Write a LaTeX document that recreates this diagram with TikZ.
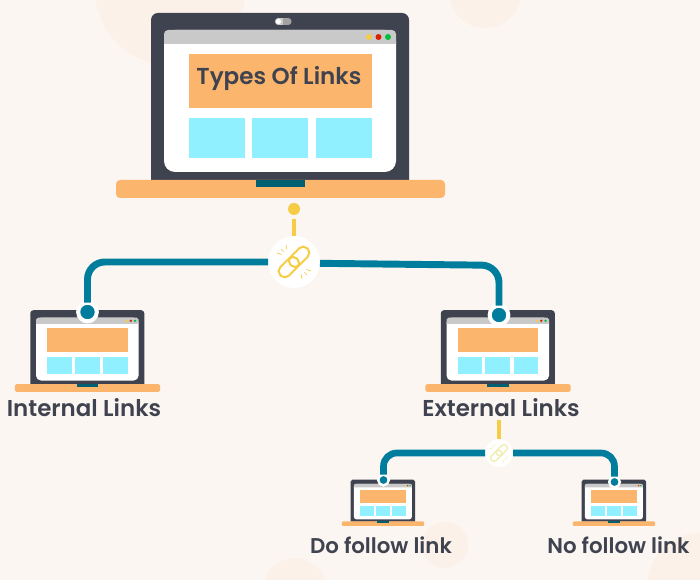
\documentclass[tikz,border=0pt]{standalone}
\usepackage{fontspec}
\newfontfamily\pop{Poppins}[UprightFont=* SemiBold]
\definecolor{bgc}{HTML}{FBF6F1}
\definecolor{blobc}{HTML}{FBF1E9}
\definecolor{bodyc}{HTML}{3F424F}
\definecolor{orangec}{HTML}{FBB56C}
\definecolor{bluec}{HTML}{90F0FF}
\definecolor{tealc}{HTML}{007D9C}
\definecolor{notchc}{HTML}{005F70}
\definecolor{greyc}{HTML}{C9C9C9}
\definecolor{yelc}{HTML}{F6CB45}
\definecolor{palec}{HTML}{F1EDB0}
\tikzset{
  wirebig/.style={draw=tealc,line width=5.2pt,rounded corners=13pt},
  wiresmall/.style={draw=tealc,line width=5pt,rounded corners=10pt},
  hubnode/.style={circle,fill=white,inner sep=0pt,outer sep=0pt},
  dotnode/.style={circle,fill=tealc,draw=white,inner sep=0pt,outer sep=0pt},
  labeltext/.style={font=\pop\fontsize{17.2pt}{19pt}\selectfont,text=bodyc,inner sep=0pt},
  sublabeltext/.style={font=\pop\fontsize{16pt}{18pt}\selectfont,text=bodyc,inner sep=0pt},
  stem/.style={draw=yelc,line width=3pt},
}
% #1 centre x, #2 bottom y, #3 scale
\newcommand{\laptopicon}[3]{%
  \pgfmathsetmacro{\ra}{7*#3*0.75}%
  \pgfmathsetmacro{\rb}{11*#3*0.75}%
  \pgfmathsetmacro{\rc}{4*#3*0.75}%
  \begin{scope}[shift={(#1,#2)},xscale=#3,yscale=#3,shift={(-280.5,-198)}]
    \fill[bodyc] (151,181) [rounded corners=\ra pt] -- (151,13) -- (409,13) [sharp corners] -- (409,181) -- cycle;
    \fill[white,rounded corners=\rb pt] (164,30) rectangle (396,172);
    \fill[greyc] (164,44) [rounded corners=\rc pt] -- (164,30) -- (396,30) [sharp corners] -- (396,44) -- cycle;
    \fill[yelc] (369,37) circle[radius=3];
    \fill[red!70!orange!85!black] (378.5,37) circle[radius=3];
    \fill[green!70!cyan!75!black] (388,37) circle[radius=3];
    \fill[orangec] (189,54) rectangle (372,108);
    \fill[bluec] (189,118) rectangle (245,158);
    \fill[bluec] (252,118) rectangle (308,158);
    \fill[bluec] (316,118) rectangle (372,158);
    \fill[orangec,rounded corners=\rc pt] (116,180) rectangle (445,198);
    \fill[notchc] (256,180) rectangle (305,187.5);
  \end{scope}}
% #1 centre x, #2 centre y, #3 scale, #4 colour, #5 line width
\newcommand{\chainicon}[5]{%
  \pgfmathsetmacro{\rl}{4.2*#3}%
  \begin{scope}[shift={(#1,#2)},xscale=#3,yscale=#3]
    \begin{scope}[rotate=45]
      \draw[#4,line width=#5,rounded corners=\rl pt] (-19,-6) rectangle (4.5,6);
      \draw[#4,line width=#5,rounded corners=\rl pt] (-4.5,-6) rectangle (19,6);
    \end{scope}
    \draw[#4,line width=0.5pt] (-17,-9) -- (-12.5,-7.5) (-13,-13) -- (-10,-10) (-8,-17) -- (-7,-12.5)
      (17,9) -- (12.5,7.5) (13,13) -- (10,10) (8,17) -- (7,12.5);
  \end{scope}}
\begin{document}
\begin{tikzpicture}[x=0.75pt,y=-0.75pt]
\useasboundingbox (0,0) rectangle (700,580);
\fill[bgc] (0,0) rectangle (700,580);
\begin{scope}
  \clip (0,0) rectangle (700,580);
  \fill[blobc] (170,-10) circle[radius=75];
  \fill[blobc] (485,-8) circle[radius=36];
  \fill[blobc] (445,545) circle[radius=23];
  \fill[blobc] (700,585) circle[radius=52];
  \fill[blobc] (295,590) circle[radius=32];
\end{scope}
\laptopicon{280.5}{198}{1}
\laptopicon{87.5}{392}{0.442}
\laptopicon{498}{392}{0.442}
\laptopicon{383}{526}{0.25}
\laptopicon{614}{526}{0.25}
% webcam of the large laptop
\fill[greyc] (278.5,18) rectangle (287,25);
\fill[greyc] (278.5,21.5) circle[radius=3.6];
\fill[greyc!80!black] (283,18) rectangle (288,25);
\fill[greyc!80!black] (288,21.5) circle[radius=3.6];
\fill[white] (278.5,21.5) circle[radius=2.6];
\node[font=\pop\fontsize{17.3pt}{20pt}\selectfont,text=bodyc,inner sep=0pt] (title) at (279,79) {Types Of Links};
% hubs and end dots
\node[hubnode,minimum size=39pt] (hubA) at (294,262) {};
\node[hubnode,minimum size=21pt] (hubB) at (499,453) {};
\node[circle,fill=yelc,inner sep=0pt,outer sep=0pt,minimum size=9pt] (topdot) at (294,209) {};
\node[dotnode,line width=3pt,minimum size=14pt] (dotL) at (87.5,312) {};
\node[dotnode,line width=3pt,minimum size=14pt] (dotR) at (499,315) {};
\node[dotnode,line width=1.8pt,minimum size=8pt] (dotDo) at (383.5,480) {};
\node[dotnode,line width=1.8pt,minimum size=8pt] (dotNo) at (614.5,482) {};
\node[labeltext] (lblInt) at (84,408) {Internal Links};
\node[labeltext] (lblExt) at (501,408) {External Links};
\node[sublabeltext] (lblDo) at (381,545) {Do follow link};
\node[sublabeltext] (lblNo) at (618.5,545) {No follow link};
% connectors
\draw[stem] ([yshift=-3pt]topdot.south) -- (hubA.north);
\draw[stem] ([yshift=-2pt]lblExt.south -| hubB.north) -- (hubB.north);
\draw[wirebig] (hubA.west) -- (hubA.west -| dotL.north) -- (dotL.north);
\draw[wirebig] ([yshift=-1pt]hubA.east) -- ([yshift=-2.5pt]hubA.east -| dotR.north) -- (dotR.north);
\draw[wiresmall] (hubB.west) -- (hubB.west -| dotDo.north) -- (dotDo.north);
\draw[wiresmall] (hubB.east) -- (hubB.east -| dotNo.north) -- (dotNo.north);
\chainicon{294}{262}{1}{yelc}{1.5pt}
\chainicon{499}{453}{0.55}{palec}{1pt}
\end{tikzpicture}
\end{document}
